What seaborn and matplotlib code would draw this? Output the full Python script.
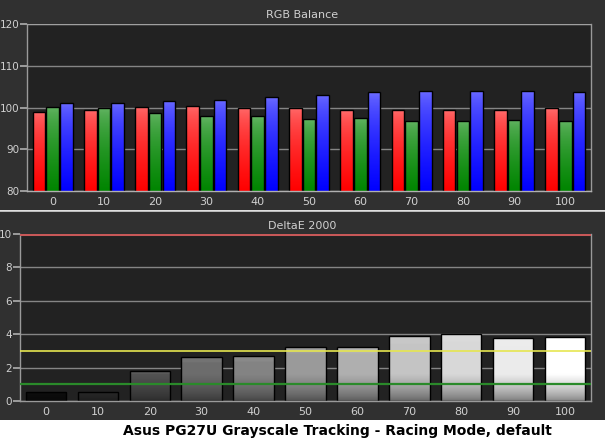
import numpy as np
import pandas as pd
import matplotlib
matplotlib.use("Agg")
import matplotlib.pyplot as plt
from matplotlib.lines import Line2D
from matplotlib.patches import Rectangle
import seaborn as sns

# ---------------- data ----------------
levels = ["0", "10", "20", "30", "40", "50", "60", "70", "80", "90", "100"]
red_vals = [99.0, 99.5, 100.2, 100.4, 100.0, 100.0, 99.3, 99.5, 99.5, 99.3, 99.8]
green_vals = [100.2, 100.0, 98.7, 97.9, 97.9, 97.3, 97.6, 96.8, 96.8, 97.1, 96.8]
blue_vals = [101.1, 101.1, 101.6, 101.9, 102.4, 103.0, 103.6, 104.0, 104.0, 104.0, 103.8]
delta_e = [0.56, 0.56, 1.82, 2.61, 2.69, 3.21, 3.21, 3.87, 3.99, 3.75, 3.81]
channels = ["Red", "Green", "Blue"]
top_title = "RGB Balance"
bottom_title = "DeltaE 2000"
caption = "Asus PG27U Grayscale Tracking - Racing Mode, default"
rgb_ticks = [80, 90, 100, 110, 120]
de_ticks = [0, 2, 4, 6, 8, 10]
thresholds = {"red": 10.0, "yellow": 3.0, "green": 1.0}

rgb_df = pd.DataFrame({
    "level": levels * 3,
    "value": red_vals + green_vals + blue_vals,
    "channel": [c for c in channels for _ in levels],
})
de_df = pd.DataFrame({"level": levels, "delta": delta_e})

# ---------------- style ----------------
sns.set_theme(style="dark")
plt.rcParams["font.family"] = ["DejaVu Sans"]

OUTER = "#303030"
INNER = "#222222"
GRID = "#858585"
TXT = "#d0d0d0"

fig = plt.figure(figsize=(6.05, 4.41), dpi=100, facecolor="white")
# background panels
fig.patches.append(Rectangle((0, 1 - 210 / 441), 1, 210 / 441, transform=fig.transFigure,
                             facecolor=OUTER, edgecolor="none", zorder=-10))
fig.patches.append(Rectangle((0, 1 - 420 / 441), 1, 209 / 441, transform=fig.transFigure,
                             facecolor=OUTER, edgecolor="none", zorder=-10))
fig.lines.append(Line2D([0, 1], [1 - 210.5 / 441] * 2, transform=fig.transFigure,
                        color="#d8d8d8", lw=1.2, zorder=-5))

ax1 = fig.add_axes([27 / 605, 1 - 191 / 441, 564 / 605, 167 / 441])
ax2 = fig.add_axes([20 / 605, 1 - 401 / 441, 571 / 605, 167 / 441])

palette = {"Red": "#ff2020", "Green": "#1a8a1a", "Blue": "#2020ff"}
sns.barplot(data=rgb_df, x="level", y="value", hue="channel", order=levels,
            hue_order=channels, palette=palette, width=0.8, gap=0.08,
            edgecolor="black", linewidth=1.0, legend=False, ax=ax1)
sns.barplot(data=de_df, x="level", y="delta", order=levels, color="#888888",
            width=0.78, edgecolor="black", linewidth=1.0, ax=ax2)

grad_top = {"Red": ((1.0, 0.45, 0.45), (1.0, 0.0, 0.0)),
            "Green": ((0.42, 0.72, 0.42), (0.0, 0.52, 0.0)),
            "Blue": ((0.45, 0.45, 1.0), (0.0, 0.0, 1.0))}


def overlay(ax, patch, img, ylow):
    x0, w, h = patch.get_x(), patch.get_width(), patch.get_height()
    im = ax.imshow(img, extent=[x0, x0 + w, ylow, h], aspect="auto",
                   interpolation="bilinear", zorder=1.5)
    im.set_clip_path(patch)
    patch.set_facecolor("none")
    patch.set_zorder(2)


# top gradients
N = 150
t = np.linspace(0, 1, N) ** 0.6
bars1 = [p for p in ax1.patches if isinstance(p, Rectangle)]
for i, p in enumerate(bars1):
    ch = channels[i // len(levels)]
    c0, c1 = np.array(grad_top[ch][0]), np.array(grad_top[ch][1])
    img = (c0[None, :] + (c1 - c0)[None, :] * t[:, None])[:, None, :]
    overlay(ax1, p, img, 80)

# bottom gradients
bars2 = [p for p in ax2.patches if isinstance(p, Rectangle)]
for i, p in enumerate(bars2):
    lvl = float(levels[i]) / 100.0
    g = 0.07 + 0.93 * lvl ** 0.8
    h = p.get_height()
    ys = np.linspace(h, 0, N)
    f = np.where(ys > 1.6, 1.0, 0.5 + 0.5 * np.clip(ys / 1.6, 0, 1) ** 0.7)
    top_boost = np.where(ys > h - 0.12 * h, 0.05, 0.0)
    vals = np.clip(g * f + top_boost * (1 - g), 0, 1)
    img = np.repeat(vals[:, None], 3, axis=1)[:, None, :]
    overlay(ax2, p, img, 0)

for ax, ticks, lo, hi in ((ax1, rgb_ticks, 80, 120), (ax2, de_ticks, 0, 10)):
    ax.set_facecolor(INNER)
    ax.set_ylim(lo, hi)
    ax.set_xlim(-0.5, len(levels) - 0.5)
    ax.set_yticks(ticks)
    ax.set_xlabel("")
    ax.set_ylabel("")
    ax.set_axisbelow(True)
    ax.grid(axis="y", color=GRID, lw=1.0, zorder=0)
    ax.grid(axis="x", visible=False)
    ax.set_xticks(np.arange(-0.5, len(levels), 1.0), minor=True)
    ax.tick_params(axis="x", which="major", length=0, labelcolor=TXT,
                   labelsize=8, pad=4)
    ax.tick_params(axis="x", which="minor", length=3, color="#bbbbbb",
                   direction="out", width=1)
    ax.tick_params(axis="y", which="major", length=5, color="#aaaaaa",
                   labelcolor=TXT, labelsize=7.5, pad=0.5, left=True)
    for s in ["left", "bottom", "right"]:
        ax.spines[s].set_visible(True)
        ax.spines[s].set_color("#9a9a9a")
        ax.spines[s].set_linewidth(1.0)
    ax.spines["top"].set_visible(False)

ax1.spines["bottom"].set_color("#b0b0b0")
ax1.axhline(120, color="#a0a0a0", lw=1.6, zorder=3)
ax2.axhline(thresholds["red"], color="#c85858", lw=2.2, zorder=3)
ax2.axhline(thresholds["yellow"], color="#e6e650", lw=1.2, zorder=3)
ax2.axhline(thresholds["green"], color="#2a8a2a", lw=1.6, zorder=3)

fig.text(0.5, 1 - 15 / 441, top_title, ha="center", va="center", color=TXT, fontsize=8)
fig.text(0.5, 1 - 226 / 441, bottom_title, ha="center", va="center", color=TXT, fontsize=8)
fig.text(337.5 / 605, 1 - 431 / 441, caption, ha="center", va="center", color="black",
         fontsize=10, fontweight="bold")

fig.savefig("out.png", dpi=100, facecolor=fig.get_facecolor())
